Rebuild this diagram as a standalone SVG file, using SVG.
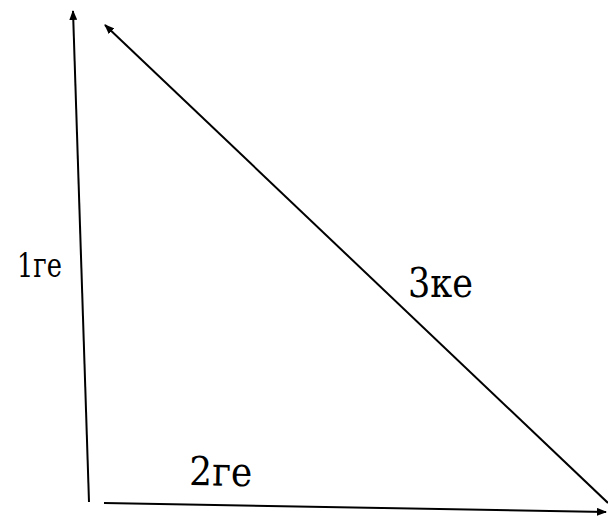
<svg xmlns="http://www.w3.org/2000/svg" width="608" height="517" viewBox="0 0 608 517">
<defs>
<marker id="ah" viewBox="0 0 10 8" refX="9" refY="4" markerWidth="10" markerHeight="8" markerUnits="userSpaceOnUse" orient="auto-start-reverse">
<path d="M0,0 L10,4 L0,8 Z" fill="#000"/>
</marker>
<style>
.ln{stroke:#000;stroke-width:2;fill:none}
.t{font-family:"DejaVu Serif","Liberation Serif",serif;fill:#000}
</style>
</defs>
<rect width="608" height="517" fill="#fff"/>
<g id="connectors">
<line class="ln" x1="89" y1="502" x2="73" y2="11" marker-end="url(#ah)"/>
<line class="ln" x1="104" y1="503" x2="606" y2="512" marker-end="url(#ah)"/>
<line class="ln" x1="608" y1="503" x2="105" y2="25" marker-end="url(#ah)"/>
</g>
<g id="label-1"><text class="t" x="17" y="277" font-size="34" textLength="45" lengthAdjust="spacingAndGlyphs">1ге</text></g>
<g id="label-3"><text class="t" x="408" y="297" font-size="41" textLength="65" lengthAdjust="spacingAndGlyphs">3ке</text></g>
<g id="label-2"><text class="t" x="189" y="485" font-size="40" textLength="63" lengthAdjust="spacingAndGlyphs" transform="rotate(1 189 485)">2ге</text></g>
</svg>
